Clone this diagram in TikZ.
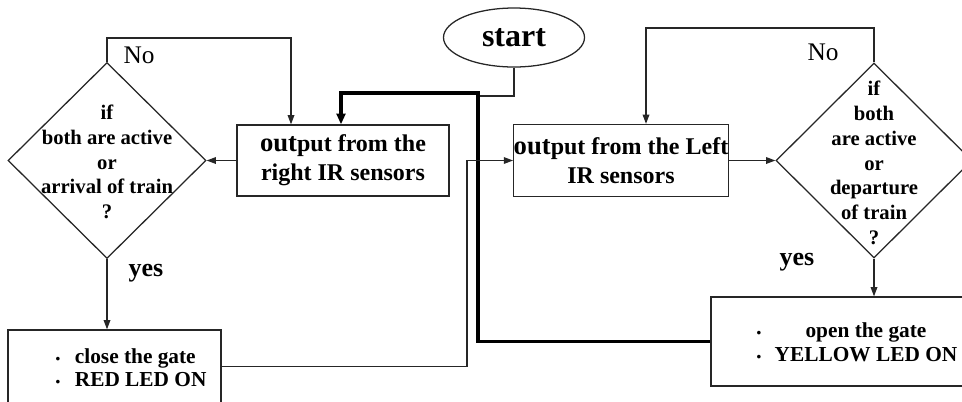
\documentclass[tikz,border=0pt]{standalone}
\usepackage{fontspec}
\setmainfont{Liberation Serif}
\usetikzlibrary{shapes.geometric,arrows.meta}

\newcommand{\outword}{{\fontsize{20}{22}\selectfont out}}

\begin{document}
\begin{tikzpicture}[x=0.75pt,y=-0.75pt,
  line/.style={draw=black!85, line width=0.95pt},
  flow/.style={line, -{Triangle[length=7pt,width=5pt]}},
  heavy/.style={draw=black, line width=2.4pt, -{Triangle[length=8pt,width=6.5pt]}},
  box/.style={draw=black!85, line width=0.95pt, rectangle, inner sep=0pt,
    align=center, font=\bfseries\fontsize{18}{22}\selectfont},
  decision/.style={draw=black!85, line width=0.95pt, diamond, inner sep=0pt},
  dectext/.style={align=center, inner sep=0pt, font=\bfseries\fontsize{15.5}{18.6}\selectfont},
  listtext/.style={inner sep=0pt, font=\bfseries\fontsize{16}{#1}\selectfont},
  nolabel/.style={inner sep=0pt, font=\fontsize{19}{19}\selectfont},
  yeslabel/.style={inner sep=0pt, font=\bfseries\fontsize{19.5}{19.5}\selectfont},
]
\useasboundingbox (0,0) rectangle (962,401);
\clip (0,0) rectangle (962,401);

% start terminal
\node[draw=black!85, line width=0.95pt, ellipse, inner sep=0pt,
      minimum width=141*0.75pt, minimum height=59*0.75pt,
      font=\bfseries\fontsize{24}{24}\selectfont] (start) at (514,37.5) {start};

% process boxes
\node[box, minimum width=212*0.75pt, minimum height=71*0.75pt] (rir) at (343,160.5)
  {\outword put from the\\right IR sensors};
\node[box, minimum width=212*0.75pt, minimum height=72*0.75pt] (lir) at (621,160.5)
  {\outword put from the Left\\IR sensors};
\node[box, minimum width=213*0.75pt, minimum height=73*0.75pt] (close) at (114.5,366.5) {};
\node[box, minimum width=278*0.75pt, minimum height=89*0.75pt] (open) at (850,341.5) {};

% decisions
\node[decision, minimum width=198*0.75pt, minimum height=196*0.75pt] (ldec) at (107,160.5) {};
\node[decision, minimum width=196*0.75pt, minimum height=195*0.75pt] (rdec) at (874,160.5) {};
\node[dectext] (ldectxt) at (107,162) {if\\both are active\\or\\arrival of train\\?};
\node[dectext] (rdectxt) at (874,163) {if\\both\\are active\\or\\departure\\of train\\?};

% action lists
\node[listtext=17.5] (closetxt) at (131,370)
  {\begin{tabular}{@{}l@{\hspace{11pt}}l@{}}
   {\fontsize{10}{10}\selectfont\textbullet} & close the gate\\
   {\fontsize{10}{10}\selectfont\textbullet} & RED LED ON
   \end{tabular}};
\node[listtext=18] (opentxt) at (857,345)
  {\begin{tabular}{@{}l@{\hspace{10pt}}c@{}}
   {\fontsize{10}{10}\selectfont\textbullet} & open the gate\\
   {\fontsize{10}{10}\selectfont\textbullet} & YELLOW LED ON
   \end{tabular}};

% branch labels
\node[nolabel] (noL) at (139,55) {No};
\node[yeslabel] (yesL) at (146,273) {yes};
\node[nolabel] (noR) at (823,52) {No};
\node[yeslabel] (yesR) at (797,262) {yes};

% routing points
\coordinate (tj) at (478,96);
\coordinate (hj) at (478,93);
\coordinate (hk) at (341,93);
\coordinate (lloop) at (291,38);
\coordinate (rloop) at (646,28);
\coordinate (cj) at (467,160.5);

% connectors
\draw[line] (start.south) |- (tj);
\draw[heavy] (open.west) -| (hj) -- (hk) -- (hk |- rir.north);
\draw[flow] (rir.west) -- (ldec.east);
\draw[flow] (ldec.north) |- (lloop) -- (lloop |- rir.north);
\draw[flow] (ldec.south) -- (ldec.south |- close.north);
\draw[flow] (close.east) -| (cj) -- (lir.west);
\draw[flow] (lir.east) -- (rdec.west);
\draw[flow] (rdec.north) |- (rloop) -- (rloop |- lir.north);
\draw[flow] (rdec.south) -- (rdec.south |- open.north);
\end{tikzpicture}
\end{document}
